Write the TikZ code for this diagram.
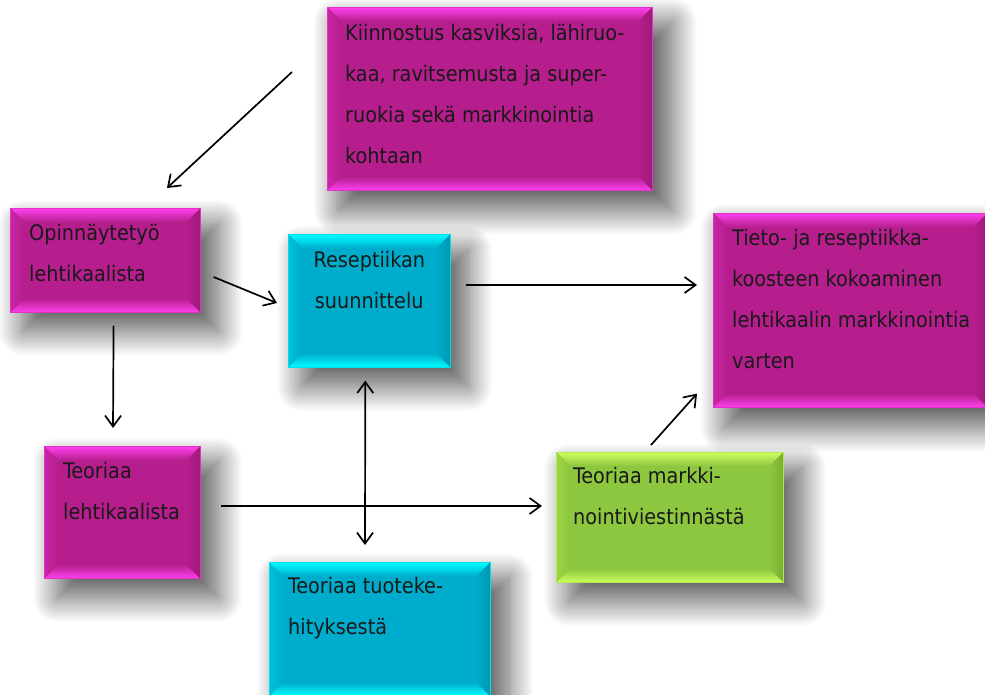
\documentclass[tikz,border=0pt]{standalone}
\usepackage{fontspec}
\setmainfont{DejaVu Sans Condensed}
\usepackage{xcolor}
\usetikzlibrary{arrows.meta,positioning,calc,shadows.blur}

\definecolor{magbase}{RGB}{181,30,140}
\definecolor{maglight}{RGB}{255,64,238}
\definecolor{cyanbase}{RGB}{0,172,204}
\definecolor{cyanlight}{RGB}{0,255,255}
\definecolor{greenbase}{RGB}{141,198,63}
\definecolor{greenlight}{RGB}{205,255,95}

\tikzset{
  bevel/.style 2 args={rectangle, anchor=north west, inner sep=0pt,
    fill=#1, draw=#2!60!#1, line width=0.6pt,
    blur shadow={shadow xshift=15pt, shadow yshift=-17pt,
      shadow blur radius=24pt, shadow blur steps=30,
      shadow opacity=65, shadow scale=1.03},
    path picture={
      \coordinate (pnw) at (path picture bounding box.north west);
      \coordinate (pne) at (path picture bounding box.north east);
      \coordinate (psw) at (path picture bounding box.south west);
      \coordinate (pse) at (path picture bounding box.south east);
      \coordinate (inw) at ([xshift=14pt,yshift=-14pt]pnw);
      \coordinate (ine) at ([xshift=-14pt,yshift=-14pt]pne);
      \coordinate (isw) at ([xshift=14pt,yshift=14pt]psw);
      \coordinate (ise) at ([xshift=-14pt,yshift=14pt]pse);
      \shade[top color=#2, bottom color=#1] (pnw) -- (pne) -- (ine) -- (inw) -- cycle;
      \shade[top color=#1, bottom color=#2] (psw) -- (pse) -- (ise) -- (isw) -- cycle;
      \shade[left color=#1!75!#2, right color=#1] (pnw) -- (inw) -- (isw) -- (psw) -- cycle;
      \shade[left color=#1, right color=#1!88!black] (pne) -- (ine) -- (ise) -- (pse) -- cycle;
    }},
  magbox/.style={bevel={magbase}{maglight}},
  cyanbox/.style={bevel={cyanbase}{cyanlight}},
  greenbox/.style={bevel={greenbase}{greenlight}},
  txt/.style={anchor=north west, inner sep=0pt, align=left,
    font=\fontsize{21.4}{41}\selectfont, text=black!90},
  barb/.tip={Straight Barb[length=11pt,width=16pt]},
  flow/.style={-barb, line width=1.7pt},
}

\begin{document}
\begin{tikzpicture}[x=1pt,y=-1pt]
  \useasboundingbox (0,0) rectangle (985,695);

  % boxes
  \node[magbox, minimum width=325pt, minimum height=183pt] (interest) at (327,7) {};
  \node[magbox, minimum width=190pt, minimum height=104pt] (thesis) at (10,208) {};
  \node[cyanbox, minimum width=162pt, minimum height=133pt] (recipe) at (288,234) {};
  \node[magbox, minimum width=274pt, minimum height=194pt] (compile) at (713,213) {};
  \node[magbox, minimum width=156pt, minimum height=132pt] (kale) at (44,446) {};
  \node[greenbox, minimum width=227pt, minimum height=130pt] (market) at (556,452) {};
  \node[cyanbox, minimum width=221pt, minimum height=134pt] (product) at (269,562) {};

  % texts
  \node[txt] (interest-t) at ([xshift=18pt,yshift=-17pt]interest.north west)
    {Kiinnostus kasviksia, lähiruo-\\kaa, ravitsemusta ja super-\\ruokia sekä markkinointia\\kohtaan};
  \node[txt] (thesis-t) at ([xshift=19pt,yshift=-16pt]thesis.north west)
    {Opinnäytetyö\\lehtikaalista};
  \node[txt, anchor=north, align=center] (recipe-t) at ([yshift=-17pt]recipe.north)
    {Reseptiikan\\suunnittelu};
  \node[txt] (compile-t) at ([xshift=19pt,yshift=-16pt]compile.north west)
    {Tieto- ja reseptiikka-\\koosteen kokoaminen\\lehtikaalin markkinointia\\varten};
  \node[txt] (kale-t) at ([xshift=19pt,yshift=-16pt]kale.north west)
    {Teoriaa\\lehtikaalista};
  \node[txt] (market-t) at ([xshift=17pt,yshift=-15pt]market.north west)
    {Teoriaa markki-\\nointiviestinnästä};
  \node[txt] (product-t) at ([xshift=19pt,yshift=-15pt]product.north west)
    {Teoriaa tuoteke-\\hityksestä};

  % connectors
  \draw[flow] ([xshift=-35pt,yshift=-65pt]interest.north west) -- ([xshift=157pt,yshift=20pt]thesis.north west);
  \draw[flow] ([xshift=13pt,yshift=-69pt]thesis.north east) -- ([xshift=-11pt,yshift=-69pt]recipe.north west);
  \draw[flow] ([xshift=15pt,yshift=-51pt]recipe.north east) -- ([xshift=-16pt,yshift=-72pt]compile.north west);
  \draw[flow] ([xshift=-87pt,yshift=-13pt]thesis.south east) -- ([xshift=69pt,yshift=18pt]kale.north west);
  \draw[barb-barb, line width=1.7pt]
    ([xshift=-4pt,yshift=-13pt]recipe.south) -- ([xshift=96pt,yshift=17pt]product.north west);
  \draw[flow] ([xshift=20pt,yshift=-60pt]kale.north east) -- ([xshift=-14pt,yshift=-54pt]market.north west);
  \draw[flow] ([xshift=95pt,yshift=7pt]market.north west) -- ([xshift=-16pt,yshift=14pt]compile.south west);
\end{tikzpicture}
\end{document}
